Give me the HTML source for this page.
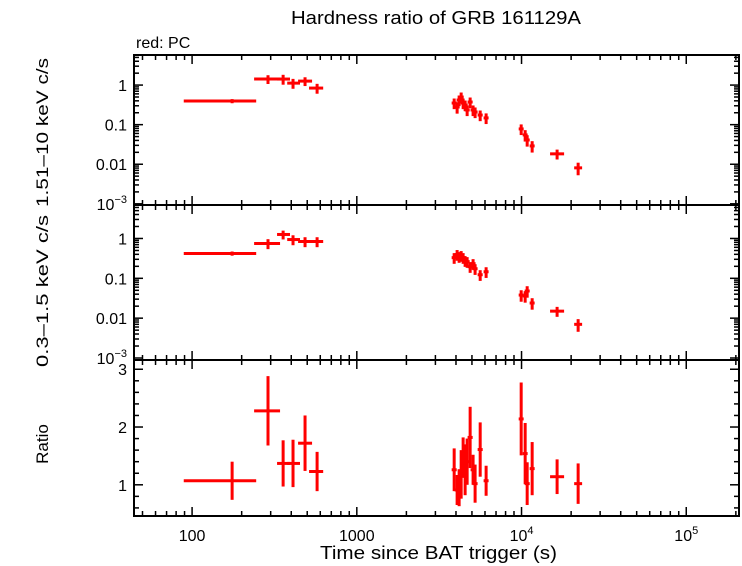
<!DOCTYPE html>
<html><head><meta charset="utf-8"><style>
body{margin:0;background:#fff;}
svg{display:block;font-family:"Liberation Sans",sans-serif;}
</style></head><body>
<svg id="chart" width="742" height="566" viewBox="0 0 742 566" xmlns="http://www.w3.org/2000/svg">
<text x="291" y="24" font-size="18" textLength="290" lengthAdjust="spacingAndGlyphs">Hardness ratio of GRB 161129A</text>
<text x="136" y="48" font-size="16">red: PC</text>
<text x="320" y="559" font-size="18" textLength="237" lengthAdjust="spacingAndGlyphs">Time since BAT trigger (s)</text>
<text transform="translate(48,207) rotate(-90)" font-size="17" textLength="149" lengthAdjust="spacingAndGlyphs">1.51–10 keV c/s</text>
<text transform="translate(48,367) rotate(-90)" font-size="17" textLength="152" lengthAdjust="spacingAndGlyphs">0.3–1.5 keV c/s</text>
<text transform="translate(48,444) rotate(-90)" font-size="17" text-anchor="middle">Ratio</text>
<g id="g"></g>
</svg>
<script>
const times=[175,289,357,410,485,574,3900,4064,4180,4300,4420,4545,4675,4875,5080,5225,5610,6095,9950,10520,10820,11600,16440,22060];
const tLo=[89,238,328,378,440,513,3765,3925,4035,4150,4270,4390,4515,4705,4905,5045,5415,5885,9610,10160,10450,11200,14900,20870];
const tHi=[245,342,393,452,535,625,4040,4210,4330,4455,4580,4710,4845,5050,5260,5410,5810,6310,10300,10890,11210,12010,18130,23320];
const hardVals=[0.395,1.42,1.42,1.12,1.26,0.84,0.352,0.279,0.419,0.499,0.352,0.313,0.235,0.373,0.235,0.209,0.175,0.148,0.078,0.055,0.041,0.029,0.0183,0.0081];
const hardErr=[0.12,0.25,0.28,0.28,0.25,0.28,0.3,0.32,0.3,0.3,0.3,0.3,0.3,0.3,0.3,0.3,0.3,0.3,0.3,0.32,0.32,0.32,0.28,0.35];
const softVals=[0.42,0.75,1.26,0.94,0.84,0.84,0.330,0.394,0.350,0.371,0.330,0.277,0.262,0.196,0.233,0.174,0.123,0.146,0.038,0.036,0.048,0.024,0.0150,0.0070];
const softErr=[0.12,0.28,0.25,0.28,0.28,0.28,0.3,0.3,0.3,0.3,0.3,0.3,0.3,0.3,0.3,0.3,0.3,0.3,0.32,0.32,0.32,0.32,0.28,0.35];
const ratioVals=[1.07,2.28,1.37,1.37,1.72,1.23,1.26,0.91,0.95,1.18,1.47,1.26,1.40,1.82,1.26,1.02,1.61,1.07,2.14,1.54,1.02,1.28,1.14,1.02];
const ratioErr=[0.33,0.60,0.40,0.41,0.48,0.34,0.37,0.26,0.32,0.42,0.35,0.44,0.40,0.53,0.26,0.33,0.47,0.26,0.63,0.53,0.37,0.46,0.30,0.35];
const xTickVals=[100,1000,10000,100000];
const xTickLabels=["100","1000","10|4","10|5"];
const logTickVals=[1,0.1,0.01,0.001];
const logTickLabels=["1","0.1","0.01","10|−3"];
const ratioTickVals=[1,2,3];

const NS="http://www.w3.org/2000/svg";
const g=document.getElementById('g');
const L=134,R=739;
const X0=Math.log10(44.4),X1=Math.log10(209000);
function xs(t){return L+(Math.log10(t)-X0)/(X1-X0)*(R-L);}
const panels=[{top:55,bot:205,lo:-3.03,hi:0.76,log:true,name:'hard'},
{top:205,bot:360,lo:-3.05,hi:0.84,log:true,name:'soft'},
{top:360,bot:516,lo:0.46,hi:3.16,log:false,name:'ratio'}];
function ys(p,v){const u=p.log?Math.log10(v):v;return p.bot-(u-p.lo)/(p.hi-p.lo)*(p.bot-p.top);}
function el(tag,attrs,parent){const e=document.createElementNS(NS,tag);for(const k in attrs)e.setAttribute(k,attrs[k]);(parent||g).appendChild(e);return e;}
function line(x1,y1,x2,y2,c,w,parent){return el('line',{x1,y1,x2,y2,stroke:c,'stroke-width':w},parent);}
function label(x,y,txt,anchor,parent){
 const t=el('text',{x,y,'font-size':16,'text-anchor':anchor},parent);
 const parts=txt.split('|');t.textContent=parts[0];
 if(parts[1]){const s=el('tspan',{dy:-7,'font-size':11},t);s.textContent=parts[1];}
 return t;}
panels.forEach((p,pi)=>{
 const pg=el('g',{});
 
 
 for(let d=1;d<=5;d++){for(let m=1;m<10;m++){const t=m*Math.pow(10,d);const x=xs(t);if(x<L||x>R)continue;const len=m===1?9:5;
  line(x,p.top,x,p.top+len,'#000',1.5,pg);line(x,p.bot,x,p.bot-len,'#000',1.5,pg);}}
 if(p.log){
  for(let d=-3;d<=0;d++){for(let m=1;m<10;m++){const v=m*Math.pow(10,d);const y=ys(p,v);if(y<p.top||y>p.bot)continue;const len=m===1?9:5;
   line(L,y,L+len,y,'#000',1.5,pg);line(R,y,R-len,y,'#000',1.5,pg);}}
  logTickVals.forEach((v,i)=>{const tl=label(127,ys(p,v)+6,logTickLabels[i],'end',pg);
   
   });
 } else {
  for(let v=0.6;v<3.16;v+=0.2){const y=ys(p,v);const major=Math.abs(v-Math.round(v))<0.01;const len=major?9:5;
   line(L,y,L+len,y,'#000',1.5,pg);line(R,y,R-len,y,'#000',1.5,pg);}
  ratioTickVals.forEach(v=>{const tl=label(127,ys(p,v)+6,String(v),'end',pg);
   
   });
 }
 el('rect',{x:L,y:p.top,width:R-L,height:p.bot-p.top,fill:'none',stroke:'#000','stroke-width':2},pg);
 const vals=pi===0?hardVals:pi===1?softVals:ratioVals;
 const errs=pi===0?hardErr:pi===1?softErr:ratioErr;
 times.forEach((t,i)=>{
  const pt=el('g',{},pg);
  
  
  const y=ys(p,vals[i]);
  let y1,y2;
  if(p.log){y1=ys(p,vals[i]*(1+errs[i]));y2=ys(p,vals[i]*(1-errs[i]));}
  else{y1=ys(p,vals[i]+errs[i]);y2=ys(p,vals[i]-errs[i]);}
  line(xs(tLo[i]),y,xs(tHi[i]),y,'#f00',3,pt);
  line(xs(t),y1,xs(t),y2,'#f00',3,pt);
 });
});
xTickVals.forEach((v,i)=>{const tl=label(xs(v),541,xTickLabels[i],'middle');
 
 });
</script>
</body></html>
